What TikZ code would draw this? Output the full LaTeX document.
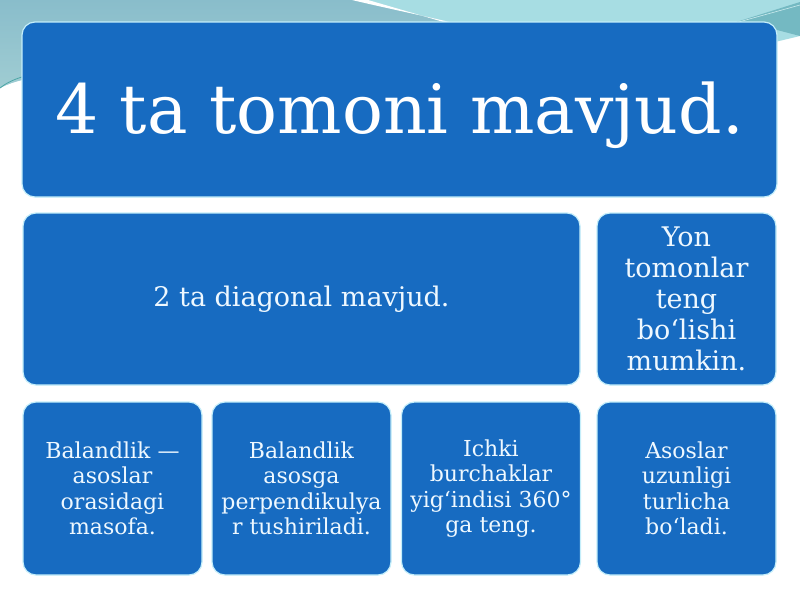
\documentclass[tikz,border=0pt]{standalone}
\usepackage{fontspec}
\setmainfont{DejaVu Serif}

\begin{document}
\begin{tikzpicture}
[x=1pt,y=-1pt,line join=round,
% Styles
tile/.style={draw=tileedge,fill=tilefill,line width=1.2pt,rounded corners=13pt,
  inner sep=0pt,text=tiletext},
big tile/.style={tile,text=white,font=\fontsize{68}{80}\selectfont,
  text height=52pt,text depth=5pt},
mid tile/.style={tile,align=center,font=\fontsize{27}{31}\selectfont},
small tile/.style={tile,align=center,font=\fontsize{22}{25.5}\selectfont,
  minimum width=179,minimum height=173}]
% Colors
\definecolor{tilefill}{HTML}{176BC1}
\definecolor{tileedge}{HTML}{C4EEFA}
\definecolor{tiletext}{HTML}{EEF8FF}
\definecolor{bandleft}{HTML}{89BDCB}
\definecolor{bandright}{HTML}{A7DDE3}
\definecolor{banddark}{HTML}{74B9C2}

\useasboundingbox (0,0) rectangle (800,600);
% The background
\fill[white] (0,0) rectangle (800,600);
\fill[bandright] (0,0) -- (800,0) -- (800,36) -- (700,60) -- (100,70)
  .. controls (40,74) and (15,80) .. (0,88) -- cycle;
\shade[top color=bandleft,bottom color=bandleft!70!teal!60] (0,0) -- (360,0)
  .. controls (390,9) and (425,16) .. (455,24) -- (100,70)
  .. controls (40,74) and (15,80) .. (0,88) -- cycle;
\draw[teal!70,line width=0.8pt] (22,77) .. controls (12,80) and (5,84) .. (0,88);
\fill[white] (352,0) .. controls (390,9) and (425,16) .. (458,24)
  -- (450,24) .. controls (420,15) and (392,7) .. (368,0) -- cycle;
\fill[banddark] (730,24) -- (800,2) -- (800,36) -- (777,30) -- cycle;
\draw[bandright!60!white,line width=0.6pt] (735,23) -- (800,5);

% The graphic
\node[big tile,minimum width=755,minimum height=175] (sides) at (399.5,109.5)
  {4 ta tomoni mavjud.};
\node[mid tile,minimum width=557,minimum height=172] (diagonals) at (301.5,299)
  {2 ta diagonal mavjud.};
\node[mid tile,minimum width=179,minimum height=172] (legs) at (686.5,299)
  {Yon\\tomonlar\\teng\\bo‘lishi\\mumkin.};
\foreach \x/\name/\txt in {112.5/height/{Balandlik —\\asoslar\\orasidagi\\masofa.},
  301.5/perp/{Balandlik\\asosga\\perpendikulya\\r tushiriladi.},
  491/angles/{Ichki\\burchaklar\\yig‘indisi 360°\\ga teng.},
  686.5/bases/{Asoslar\\uzunligi\\turlicha\\bo‘ladi.}}
  \node[small tile] (\name) at (\x,488.5) {\txt};
\end{tikzpicture}
\end{document}
